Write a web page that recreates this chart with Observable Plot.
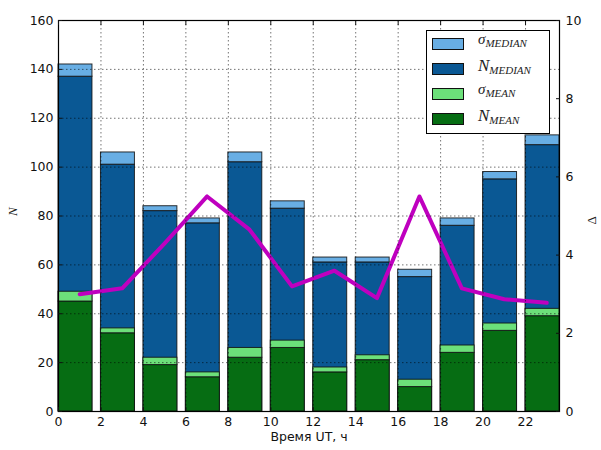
<!DOCTYPE html>
<html><head><meta charset="utf-8">
<script src="https://cdn.jsdelivr.net/npm/d3@7"></script>
<script src="https://cdn.jsdelivr.net/npm/@observablehq/plot@0.6"></script>
<style>
body{margin:0;background:#fff;}
#wrap{position:relative;width:601px;height:450px;}
#legend{position:absolute;left:426px;top:30px;width:124px;height:104px;border:1px solid #000;background:#fff;box-sizing:border-box;}
.row{position:absolute;left:0;height:20px;width:100%;}
.sw{position:absolute;left:5px;top:4px;width:32px;height:12px;border:1px solid #111;box-sizing:border-box;}
.lab{position:absolute;left:51px;top:-3px;font-family:"Liberation Serif","DejaVu Serif",serif;font-style:italic;color:#222;white-space:nowrap;}
.lab sub{font-size:11px;vertical-align:-3px;}
</style></head><body><div id="wrap"></div>
<script>
const hours = [0, 2, 4, 6, 8, 10, 12, 14, 16, 18, 20, 22];
const nMedian = [137, 101, 82, 77, 102, 83, 61, 61, 55, 76, 95, 109];
const sigmaMedian = [5, 5, 2, 2, 4, 3, 2, 2, 3, 3, 3, 4];
const nMean = [45, 32, 19, 14, 22, 26, 16, 21, 10, 24, 33, 39];
const sigmaMean = [4, 2, 3, 2, 4, 3, 2, 2, 3, 3, 3, 3];
const deltaHours = [1, 3, 5, 7, 9, 11, 13, 15, 17, 19, 21, 23];
const delta = [3.0, 3.15, 4.3, 5.5, 4.65, 3.2, 3.6, 2.9, 5.5, 3.15, 2.87, 2.78];
const leftTicks = [0, 20, 40, 60, 80, 100, 120, 140, 160];
const rightTicks = [0, 2, 4, 6, 8, 10];
const xTicks = [0, 2, 4, 6, 8, 10, 12, 14, 16, 18, 20, 22];
const legendLabels = [["σ", "MEDIAN"], ["N", "MEDIAN"], ["σ", "MEAN"], ["N", "MEAN"]];

const barWidth = 1.6;
const leftMax = 160, rightMax = 10;
const k = leftMax / rightMax;
const C = {lb: "#68aee4", db: "#0a5894", lg: "#6ce07a", dg: "#066d13", line: "#bf00bf"};

const bars = hours.map((h, i) => ({h, nMed: nMedian[i], sMed: sigmaMedian[i], nMean: nMean[i], sMean: sigmaMean[i]}));
const line = deltaHours.map((h, i) => ({h, d: delta[i]}));

const x2 = d => d.h + barWidth;
const edge = {stroke: "#111", strokeWidth: 1, strokeOpacity: 0.85};
const font = "DejaVu Sans, sans-serif";

const chart = Plot.plot({
  width: 601, height: 450,
  marginLeft: 58, marginRight: 42, marginTop: 20, marginBottom: 39,
  style: {fontFamily: font, fontSize: "12.5px", color: "#111", background: "#fff"},
  x: {domain: [0, 23.6]},
  y: {domain: [0, leftMax]},
  marks: [
    Plot.rect(bars, {x1: "h", x2, y1: 0, y2: "nMed", fill: C.db, ...edge}),
    Plot.rect(bars, {x1: "h", x2, y1: "nMed", y2: d => d.nMed + d.sMed, fill: C.lb, ...edge}),
    Plot.rect(bars, {x1: "h", x2, y1: 0, y2: "nMean", fill: C.dg, ...edge}),
    Plot.rect(bars, {x1: "h", x2, y1: "nMean", y2: d => d.nMean + d.sMean, fill: C.lg, ...edge}),
    Plot.line(line, {x: "h", y: d => d.d * k, stroke: C.line, strokeWidth: 4}),
    Plot.gridY(leftTicks, {stroke: "#000", strokeOpacity: 0.55, strokeDasharray: "1.5,2.5", strokeWidth: 1}),
    Plot.gridX(xTicks, {stroke: "#000", strokeOpacity: 0.55, strokeDasharray: "1.5,2.5", strokeWidth: 1}),
    Plot.frame({stroke: "#000", strokeWidth: 1.2}),
    Plot.axisY(leftTicks, {anchor: "left", tickSize: -4, tickPadding: 9, label: null}),
    Plot.axisY(rightTicks.map(d => d * k), {anchor: "right", tickSize: -4, tickPadding: 10, label: null, tickFormat: d => d / k}),
    Plot.axisX(xTicks, {anchor: "bottom", tickSize: -4, tickPadding: 10, label: null}),
    Plot.axisX(xTicks, {anchor: "top", tickSize: -4, tickFormat: () => "", label: null}),
    Plot.text(["N"], {frameAnchor: "left", dx: -46, rotate: -90, fontFamily: "Liberation Serif, serif", fontStyle: "italic", fontSize: 13, fill: "#222"}),
    Plot.text(["Δ"], {frameAnchor: "right", dx: 32, rotate: -90, fontFamily: "Liberation Serif, serif", fontSize: 13, fill: "#222"}),
    Plot.text(["Время UT, ч"], {frameAnchor: "bottom", dy: 29, fontSize: 12.5, fill: "#111"})
  ]
});
const wrap = document.getElementById("wrap");
wrap.appendChild(chart);

const legend = document.createElement("div");
legend.id = "legend";
const swatches = [C.lb, C.db, C.lg, C.dg];
legendLabels.forEach(([base, sub], i) => {
  const row = document.createElement("div");
  row.className = "row";
  row.style.top = (3 + i * 25) + "px";
  const sw = document.createElement("div");
  sw.className = "sw";
  sw.style.background = swatches[i];
  const lab = document.createElement("div");
  lab.className = "lab";
  lab.style.fontSize = base === "N" ? "17px" : "15px";
  lab.innerHTML = `${base}<sub>${sub}</sub>`;
  row.appendChild(sw);
  row.appendChild(lab);
  legend.appendChild(row);
});
wrap.appendChild(legend);
</script></body></html>
